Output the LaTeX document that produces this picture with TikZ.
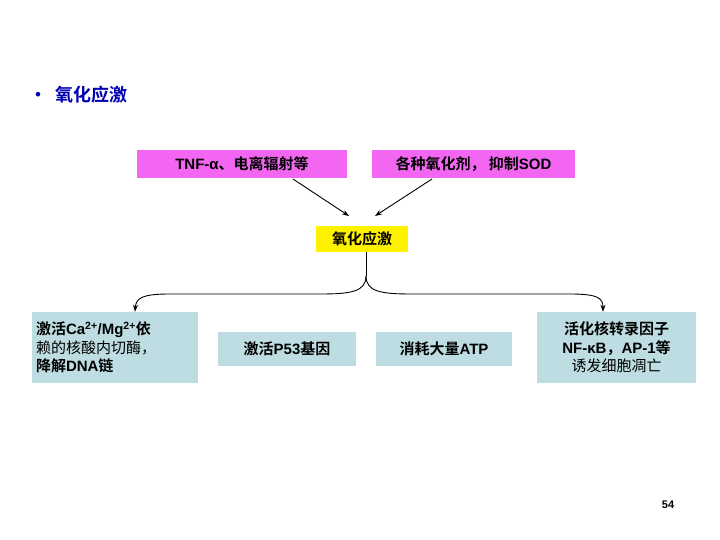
\documentclass[tikz,border=0pt]{standalone}
\usetikzlibrary{arrows.meta}
\usepackage{fontspec}
\setmainfont{Noto Sans CJK SC}[BoldFont={* Bold}]
\newfontfamily\lat{Liberation Sans}
\definecolor{pinkm}{HTML}{F266F2}
\definecolor{cyb}{HTML}{BEDDE2}
\begin{document}
\begin{tikzpicture}[x=1pt,y=-1pt,
  box/.style={inner sep=0pt,font=\fontsize{15}{18.5}\selectfont\bfseries,align=center},
  mag/.style={box,fill=pinkm},
  cyanbox/.style={box,fill=cyb},
  arr/.style={-{Stealth[length=7pt,width=5pt]},line width=0.9pt}]
\useasboundingbox (0,0) rectangle (720,540);
\fill[white] (0,0) rectangle (720,540);
\node[anchor=west,font=\fontsize{18}{21}\selectfont\bfseries,text=blue!70!black] (title) at (26,95) {\textbullet\ \ 氧化应激};
\node[mag,minimum width=210pt,minimum height=28pt] (tnf) at (242,164) {{\lat TNF-α}、电离辐射等};
\node[mag,minimum width=203pt,minimum height=28pt] (sod) at (473.5,164) {各种氧化剂， 抑制{\lat SOD}};
\node[box,fill=yellow,minimum width=92pt,minimum height=26pt] (ox) at (362,239) {氧化应激};
\coordinate (t1) at (293,179);
\coordinate (s1) at (432,179);
\draw[arr] (t1) -- (349,216);
\draw[arr] (s1) -- (375,216);
\node[cyanbox,minimum width=166pt,minimum height=71pt,align=left,text width=158pt] (a) at (115,347.5) {激活{\lat Ca\textsuperscript{2+}/Mg\textsuperscript{2+}}依\\ \mdseries 赖的核酸内切酶，\\ \bfseries 降解{\lat DNA}链};
\node[cyanbox,minimum width=138pt,minimum height=34pt] (b) at (287,349) {激活{\lat P53}基因};
\node[cyanbox,minimum width=136pt,minimum height=34pt] (c) at (444,349) {消耗大量{\lat ATP}};
\node[cyanbox,minimum width=159pt,minimum height=71pt] (d) at (616.5,347.5) {活化核转录因子\\ {\lat NF-κB}，{\lat AP-1}等\\ \mdseries 诱发细胞凋亡};
\coordinate (m) at (366,276);
\draw[line width=0.9pt] (ox.south -| m) -- (m);
\draw[arr] (m) .. controls (366,292) and (350,294) .. (320,294) -- (170,294) .. controls (142,294) and (136,298) .. (a.north -| 135,0);
\draw[arr] (m) .. controls (366,292) and (382,294) .. (412,294) -- (570,294) .. controls (598,294) and (603,298) .. (d.north -| 603,0);
\node[font=\fontsize{11}{13}\selectfont\bfseries\lat] (pg) at (668,505) {54};
\end{tikzpicture}
\end{document}
